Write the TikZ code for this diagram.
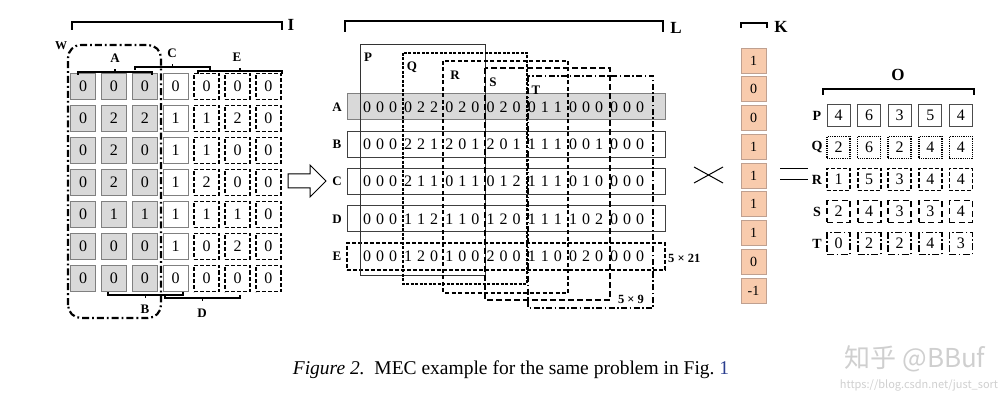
\documentclass[tikz,border=0pt]{standalone}
\usepackage{fontspec}
\setmainfont{Liberation Serif}
\newfontfamily\cjk{Noto Sans CJK SC}
\usetikzlibrary{calc}
\definecolor{cellgray}{HTML}{D9D9D9}
\definecolor{bordgray}{HTML}{808080}
\definecolor{peach}{HTML}{F8CBAD}
\definecolor{peachbd}{HTML}{BFA090}
\definecolor{linkblue}{HTML}{2B3E8F}
\definecolor{wmgray}{HTML}{CFCFCF}
\tikzset{
  base/.style={inner sep=0pt, outer sep=0pt, font=\fontsize{16}{16}\selectfont},
  gcell/.style={base, draw=bordgray, fill=cellgray, line width=1.2pt, minimum width=25pt, minimum height=26pt},
  wcell/.style={base, draw=bordgray, fill=white, line width=1.2pt, minimum width=25pt, minimum height=26pt},
  dcell/.style={base, draw=black, line width=1.8pt, dash pattern=on 4pt off 2pt, minimum width=25pt, minimum height=26pt},
  lab/.style={inner sep=0pt, font=\fontsize{13}{13}\selectfont\bfseries},
  biglab/.style={inner sep=0pt, font=\fontsize{17}{17}\selectfont\bfseries},
  brk/.style={line width=2pt},
  sbrk/.style={line width=1.4pt},
  rowbox/.style={draw=black!75, line width=1pt, minimum width=318pt, minimum height=26pt, inner sep=0pt},
  rowgray/.style={rowbox, fill=cellgray, draw=bordgray},
  rowdash/.style={draw=black, line width=1.8pt, dash pattern=on 4pt off 2pt, minimum width=318pt, minimum height=27pt, inner sep=0pt},
  dig/.style={inner sep=0pt, font=\fontsize{16}{16}\selectfont},
  bP/.style={draw=black!80, line width=1pt},
  bQ/.style={draw=black, line width=1.2pt, dash pattern=on 3pt off 1.5pt},
  bR/.style={draw=black, line width=1.3pt, dash pattern=on 4pt off 2.5pt},
  bS/.style={draw=black, line width=1.3pt, dash pattern=on 6pt off 3pt},
  bT/.style={draw=black, line width=1.3pt, dash pattern=on 6pt off 2.5pt on 1.5pt off 2.5pt},
  kcell/.style={draw=peachbd, fill=peach, line width=0.8pt, minimum width=25pt, minimum height=25pt, inner sep=0pt, font=\fontsize{14}{14}\selectfont},
  ocell/.style={inner sep=0pt, minimum width=23pt, minimum height=22pt, font=\fontsize{16}{16}\selectfont},
  oP/.style={ocell, draw=black!70, line width=1pt},
  oQ/.style={ocell, draw=black, line width=1.6pt, dash pattern=on 1.2pt off 1pt},
  oR/.style={ocell, draw=black, line width=1.8pt, dash pattern=on 4pt off 2pt},
  oS/.style={ocell, draw=black, line width=1.8pt, dash pattern=on 6pt off 3.5pt},
  oT/.style={ocell, draw=black, line width=1.8pt, dash pattern=on 7pt off 2.5pt on 1.5pt off 2.5pt},
  wline/.style={line width=2.2pt, dash pattern=on 7pt off 3pt on 1.8pt off 3pt, rounded corners=13pt},
}
\begin{document}
\begin{tikzpicture}[x=1pt,y=-1pt]
\useasboundingbox (0,0) rectangle (1006,403);
% ---------- Left matrix ----------
\foreach \row [count=\r] in {{0,0,0,0,0,0,0},{0,2,2,1,1,2,0},{0,2,0,1,1,0,0},{0,2,0,1,2,0,0},{0,1,1,1,1,1,0},{0,0,0,1,0,2,0},{0,0,0,0,0,0,0}}{
  \foreach \v [count=\c] in \row {
    \ifnum\c<4 \def\st{gcell}\else\ifnum\c=4 \def\st{wcell}\else\def\st{dcell}\fi\fi
    \node[\st] (m\r-\c) at ({83+30.9*(\c-1)},{86.5+32*(\r-1)}) {\v};
  }
}
% W region
\coordinate (wtl) at (68,45);
\coordinate (wbr) at (161,318);
\draw[wline] (wtl |- wbr) -- (wtl) -- (wtl -| wbr) -- (wbr) -- cycle;
\node[lab, font=\fontsize{12}{12}\selectfont\bfseries] (Wl) at (61,46) {W};
% I bracket
\coordinate (i1) at (72,30); \coordinate (i2) at (282,30);
\draw[brk] (i1) -- ++(0,-8) -- ($(i2)+(0,-8)$) -- (i2);
\node[biglab] (Il) at (291,25) {I};
% small brackets top
\foreach \nm/\xa/\xb/\yy/\lx/\ly in {A/78/152/72/115/58, C/135/210/67/172/53, E/198/282/71/237/57}{
  \coordinate (\nm s) at (\xa,\yy); \coordinate (\nm e) at (\xb,\yy);
  \draw[sbrk] ($(\nm s)+(0,3)$) -- (\nm s) -- (\nm e) -- ++(0,3);
  \draw[sbrk] ($(\nm s)!0.5!(\nm e)$) -- ++(0,-2.5);
  \node[lab] (\nm lab) at (\lx,\ly) {\nm};
}
% small brackets bottom
\foreach \nm/\xa/\xb/\yy/\lx/\ly in {B/108/183/295/145/309, D/165/240/298/202/313}{
  \coordinate (\nm s) at (\xa,\yy); \coordinate (\nm e) at (\xb,\yy);
  \draw[sbrk] ($(\nm s)+(0,-3)$) -- (\nm s) -- (\nm e) -- ++(0,-3);
  \draw[sbrk] ($(\nm s)!0.5!(\nm e)$) -- ++(0,2.5);
  \node[lab] (\nm lab) at (\lx,\ly) {\nm};
}
% block arrow
\draw[line width=1pt, fill=white] (288,174) -- (310,174) -- (310,165) -- (326,181) -- (310,197) -- (310,188) -- (288,188) -- cycle;
% ---------- Middle (L) ----------
\coordinate (l1) at (345,32); \coordinate (l2) at (663,32);
\draw[brk] (l1) -- ++(0,-11) -- ($(l2)+(0,-11)$) -- (l2);
\node[biglab] (Ll) at (676,28) {L};
\foreach \nm [count=\i from 0] in {A,B,C,D,E}{
  \ifnum\i=0 \def\st{rowgray}\else\ifnum\i=4 \def\st{rowdash}\else\def\st{rowbox}\fi\fi
  \node[\st] (row\nm) at (506,{107+37.3*\i}) {};
  \node[lab] (rl\nm) at (337,{107+37.3*\i}) {\nm};
}
% P..T windows
\foreach \nm/\xa/\ya/\xb/\yb/\lx/\ly in {P/360/45/485/276/368/57, Q/403/53/527/284/412/67, R/443/61/568/293/455/75, S/485/68/610/300/493/82, T/528/76/653/308/536/90}{
  \coordinate (w\nm a) at (\xa,\ya); \coordinate (w\nm b) at (\xb,\yb);
  \draw[b\nm] (w\nm a) rectangle (w\nm b);
  \node[lab] (wl\nm) at (\lx,\ly) {\nm};
}
% digits
\foreach \row [count=\r] in {
  {0,0,0,0,2,2,0,2,0,0,2,0,0,1,1,0,0,0,0,0,0},
  {0,0,0,2,2,1,2,0,1,2,0,1,1,1,1,0,0,1,0,0,0},
  {0,0,0,2,1,1,0,1,1,0,1,2,1,1,1,0,1,0,0,0,0},
  {0,0,0,1,1,2,1,1,0,1,2,0,1,1,1,1,0,2,0,0,0},
  {0,0,0,1,2,0,1,0,0,2,0,0,1,1,0,0,2,0,0,0,0}}{
  \foreach \v [count=\k] in \row {
    \pgfmathsetmacro\xx{367+41.2*int((\k-1)/3)+13*mod(\k-1,3)}
    \node[dig] (d\r-\k) at (\xx,{107+37.3*(\r-1)}) {\v};
  }
}
\node[lab, font=\fontsize{12.5}{12.5}\selectfont\bfseries, anchor=west] (sz21) at (668,258) {5 × 21};
\node[lab, font=\fontsize{12.5}{12.5}\selectfont\bfseries] (sz9) at (631,299) {5 × 9};
% ---------- K ----------
\coordinate (k1) at (741,28); \coordinate (k2) at (767,28);
\draw[brk] (k1) -- ++(0,-5) -- ($(k2)+(0,-5)$) -- (k2);
\node[biglab] (Kl) at (781,27) {K};
\foreach \v [count=\i from 0] in {1,0,0,1,1,1,1,0,-1}{
  \node[kcell] (k\i) at (753.5,{60.5+28.75*\i}) {\v};
}
% times and equals
\coordinate (x1) at (694,167); \coordinate (x2) at (723,183);
\draw[line width=1pt] (x1) -- (x2);
\draw[line width=1pt] (x1 |- x2) -- (x2 |- x1);
\coordinate (e1) at (780,169); \coordinate (e2) at (808,180);
\draw[line width=1pt] (e1) -- (e1 -| e2);
\draw[line width=1pt] (e1 |- e2) -- (e2);
% ---------- O ----------
\coordinate (o1) at (823,95); \coordinate (o2) at (974,95);
\draw[brk] (o1) -- ++(0,-6) -- ($(o2)+(0,-6)$) -- (o2);
\node[biglab] (Ol) at (898,75) {O};
\foreach \nm/\vals [count=\r from 0] in {P/{4,6,3,5,4}, Q/{2,6,2,4,4}, R/{1,5,3,4,4}, S/{2,4,3,3,4}, T/{0,2,2,4,3}}{
  \node[lab, font=\fontsize{14}{14}\selectfont\bfseries] (ol\nm) at (817,{115.5+32*\r}) {\nm};
  \foreach \v [count=\c from 0] in \vals {
    \node[o\nm] (o\nm\c) at ({838.5+30.6*\c},{115.5+32*\r}) {\v};
  }
}
% ---------- Caption ----------
\node[inner sep=0pt, font=\fontsize{19.5}{19.5}\selectfont] (cap) at (511,370) {\textit{Figure 2.}\enspace MEC example for the same problem in Fig.~{\color{linkblue}1}};
% watermark
\node[inner sep=0pt, text=wmgray, font=\cjk\fontsize{26}{26}\selectfont] (wm1) at (915,359) {知乎 @BBuf};
\node[inner sep=0pt, text=wmgray, font=\cjk\fontsize{11}{11}\selectfont] (wm2) at (919,385) {https://blog.csdn.net/just\_sort};
\end{tikzpicture}
\end{document}
